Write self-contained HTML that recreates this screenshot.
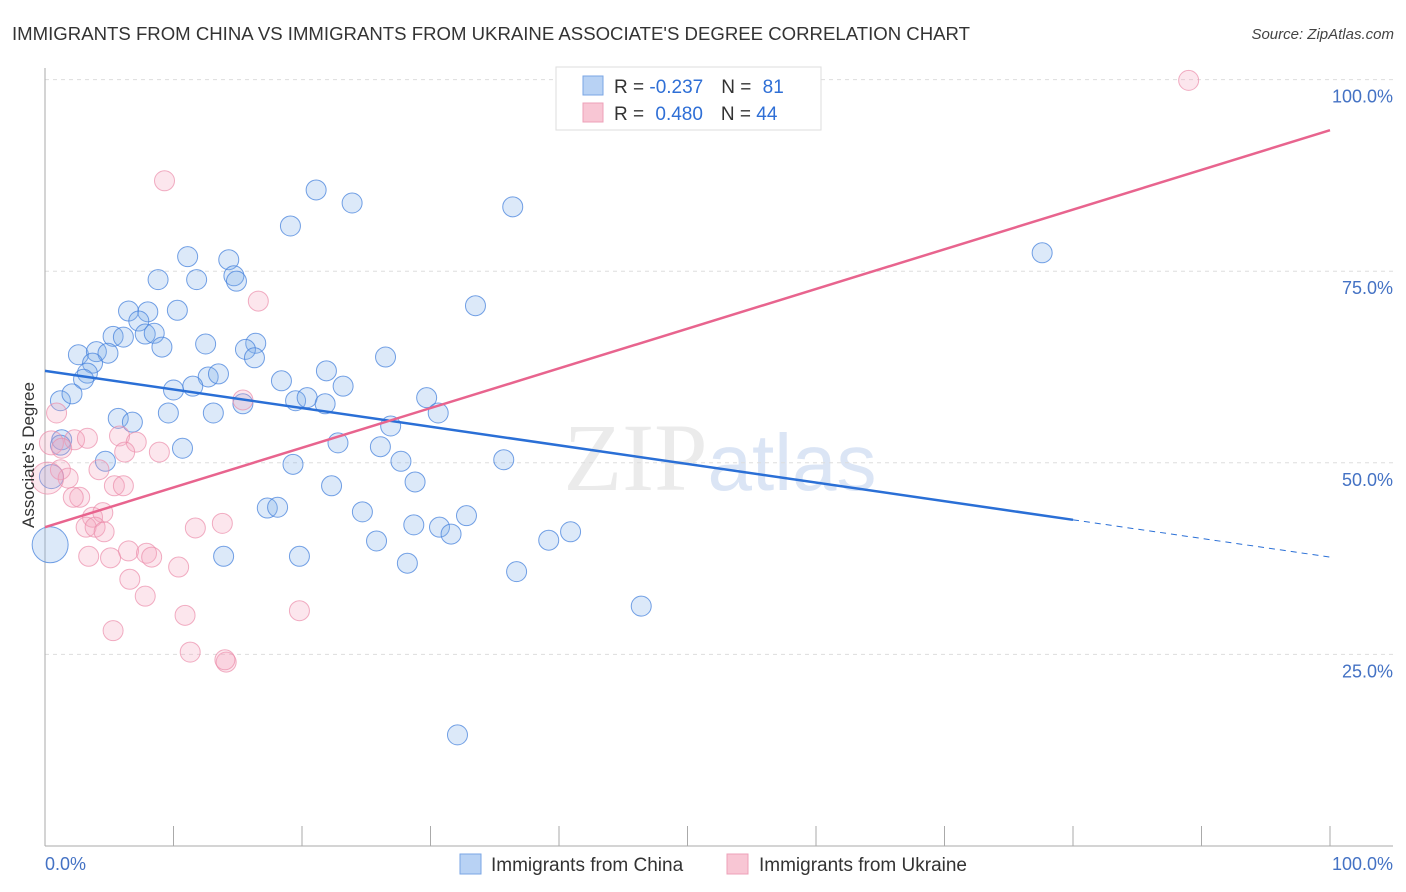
<!DOCTYPE html>
<html><head><meta charset="utf-8"><style>
body{margin:0;background:#fff;font-family:"Liberation Sans",sans-serif;}
svg{display:block}
</style></head><body>
<svg id="chart" width="1406" height="892" xmlns="http://www.w3.org/2000/svg">
<text x="12" y="40" font-size="18" fill="#333" textLength="958" lengthAdjust="spacingAndGlyphs">IMMIGRANTS FROM CHINA VS IMMIGRANTS FROM UKRAINE ASSOCIATE'S DEGREE CORRELATION CHART</text>
<text x="1394" y="39" font-size="15" fill="#444" text-anchor="end" font-style="italic">Source: ZipAtlas.com</text>
<text x="720" y="490" font-size="96" text-anchor="middle" fill="#ebebeb" font-family="Liberation Serif">ZIP<tspan fill="#dbe5f5" font-family="Liberation Sans" font-size="80">atlas</tspan></text>
<g id="grid"></g>
<g id="axes"></g>
<g id="points"></g>
<g id="lines"></g>
<text transform="translate(34,455) rotate(-90)" font-size="17" fill="#333" text-anchor="middle">Associate's Degree</text>
<text x="45" y="870" font-size="18" fill="#4472c4">0.0%</text>
<text x="1393" y="870" font-size="18" fill="#4472c4" text-anchor="end">100.0%</text>
<g>
<rect x="556" y="67" width="265" height="63" fill="#fff" stroke="#ddd"/>
<rect x="583" y="76" width="20" height="19" fill="#b8d2f4" stroke="#7aa6e4"/>
<rect x="583" y="103" width="20" height="19" fill="#f8c6d4" stroke="#eea0b8"/>
<text x="614" y="93" font-size="19" fill="#333">R = <tspan fill="#2f6fd6">-0.237</tspan><tspan dx="18">N = </tspan><tspan fill="#2f6fd6" dx="6">81</tspan></text>
<text x="614" y="120" font-size="19" fill="#333">R = <tspan fill="#2f6fd6" dx="6">0.480</tspan><tspan dx="18">N = </tspan><tspan fill="#2f6fd6">44</tspan></text>
</g>
<g>
<rect x="460" y="854" width="21" height="20" fill="#b8d2f4" stroke="#7aa6e4"/>
<text x="491" y="871" font-size="19" fill="#333">Immigrants from China</text>
<rect x="727" y="854" width="21" height="20" fill="#f8c6d4" stroke="#eea0b8"/>
<text x="759" y="871" font-size="19" fill="#333">Immigrants from Ukraine</text>
</g>
</svg>
<script>
const yTicks=[25,50,75,100];
const yTickLabels=["25.0%","50.0%","75.0%","100.0%"];
const xTicks=[0,10,20,30,40,50,60,70,80,90,100];
const chinaX=[21.1,23.9,36.4,19.1,11.1,14.3,8.8,11.8,14.7,14.9,33.5,6.5,8.0,10.3,7.3,5.3,6.1,7.8,8.5,9.1,12.5,16.4,15.6,16.3,26.5,2.6,4.0,4.9,3.7,3.3,3.0,21.9,18.4,12.7,13.5,11.5,10.0,23.2,1.2,2.1,19.5,20.4,21.8,29.7,15.4,9.6,13.1,30.6,5.7,6.8,26.9,1.3,1.2,22.8,10.7,26.1,4.7,19.3,27.7,35.7,28.8,22.3,17.3,18.1,24.7,32.8,28.7,30.7,31.6,25.8,39.2,40.9,13.9,19.8,28.2,36.7,46.4,32.1,77.6,0.4,0.5];
const chinaY=[85.6,83.9,83.4,80.9,76.9,76.5,73.9,73.9,74.4,73.7,70.5,69.8,69.7,69.9,68.5,66.5,66.4,66.8,66.9,65.1,65.5,65.6,64.8,63.7,63.8,64.1,64.5,64.3,63.0,61.7,60.9,62.0,60.7,61.2,61.6,60.0,59.5,60.0,58.1,59.0,58.1,58.5,57.7,58.5,57.7,56.5,56.5,56.5,55.8,55.3,54.8,53.0,52.3,52.6,51.9,52.1,50.2,49.8,50.2,50.4,47.5,47.0,44.1,44.2,43.6,43.1,41.9,41.6,40.7,39.8,39.9,41.0,37.8,37.8,36.9,35.8,31.3,14.5,77.4,39.3,48.2];
const chinaR=[10,10,10,10,10,10,10,10,10,10,10,10,10,10,10,10,10,10,10,10,10,10,10,10,10,10,10,10,10,10,10,10,10,10,10,10,10,10,10,10,10,10,10,10,10,10,10,10,10,10,10,10,10,10,10,10,10,10,10,10,10,10,10,10,10,10,10,10,10,10,10,10,10,10,10,10,10,10,10,18,12];
const ukraineX=[9.3,16.6,15.4,0.9,2.3,3.3,0.5,5.8,7.1,6.2,8.9,1.3,4.2,1.2,1.8,0.2,2.7,2.2,5.4,6.1,3.7,4.5,3.2,3.9,4.6,11.7,13.8,6.5,7.9,8.3,3.4,5.1,10.4,6.6,7.8,19.8,10.9,5.3,11.3,14.1,14.0,89.0];
const ukraineY=[86.8,71.1,58.2,56.5,53.0,53.2,52.6,53.5,52.7,51.4,51.4,51.9,49.1,49.1,48.0,48.0,45.5,45.5,47.0,47.0,42.9,43.5,41.6,41.6,41.0,41.5,42.1,38.5,38.2,37.7,37.8,37.6,36.4,34.8,32.6,30.7,30.1,28.1,25.3,24.0,24.3,99.9];
const ukraineR=[10,10,10,10,10,10,12,10,10,10,10,10,10,10,10,16,10,10,10,10,10,10,10,10,10,10,10,10,10,10,10,10,10,10,10,10,10,10,10,10,10,10];
const chinaTrend=[62.0,37.7]; const chinaSolidEnd=80;
const ukraineTrend=[41.6,93.4];
const X=v=>45+v*12.85, Y=v=>846-v*7.664;
const NS="http://www.w3.org/2000/svg";
function mk(t,a,p){const e=document.createElementNS(NS,t);for(const k in a)e.setAttribute(k,a[k]);p.appendChild(e);return e;}
const grid=document.getElementById('grid'),axes=document.getElementById('axes'),pts=document.getElementById('points'),lines=document.getElementById('lines');
yTicks.forEach((t,i)=>{
 const l=mk('line',{x1:45,x2:1393,y1:Y(t),y2:Y(t),stroke:'#ddd','stroke-dasharray':'4,4'},grid);
 
 
 const tx=mk('text',{x:1393,y:Y(t)+23,'font-size':18,fill:'#4472c4','text-anchor':'end'},grid);
 tx.textContent=yTickLabels[i];
 
 
});
const ya=mk('line',{x1:45,x2:45,y1:68,y2:846,stroke:'#aaa'},axes);


const xa=mk('line',{x1:45,x2:1393,y1:846,y2:846,stroke:'#aaa'},axes);


xTicks.forEach(t=>{
 const l=mk('line',{x1:X(t),x2:X(t),y1:826,y2:846,stroke:'#aaa'},axes);
 
 
});
chinaX.forEach((x,i)=>{
 const c=mk('circle',{cx:X(x),cy:Y(chinaY[i]),r:chinaR[i],fill:'rgba(130,175,235,0.28)',stroke:'rgba(70,130,220,0.75)','stroke-width':1},pts);
 
 
});
ukraineX.forEach((x,i)=>{
 const c=mk('circle',{cx:X(x),cy:Y(ukraineY[i]),r:ukraineR[i],fill:'rgba(245,165,190,0.28)',stroke:'rgba(235,140,170,0.7)','stroke-width':1},pts);
 
 
});
const cy=x=>chinaTrend[0]+(chinaTrend[1]-chinaTrend[0])*x/100;
const l1=mk('line',{x1:X(0),y1:Y(cy(0)),x2:X(chinaSolidEnd),y2:Y(cy(chinaSolidEnd)),stroke:'#2a6fd6','stroke-width':2.5},lines);


const l2=mk('line',{x1:X(chinaSolidEnd),y1:Y(cy(chinaSolidEnd)),x2:X(100),y2:Y(cy(100)),stroke:'#2a6fd6','stroke-width':1,'stroke-dasharray':'6,5'},lines);


const l3=mk('line',{x1:X(0),y1:Y(ukraineTrend[0]),x2:X(100),y2:Y(ukraineTrend[1]),stroke:'#e8648e','stroke-width':2.5},lines);


</script>
</body></html>
